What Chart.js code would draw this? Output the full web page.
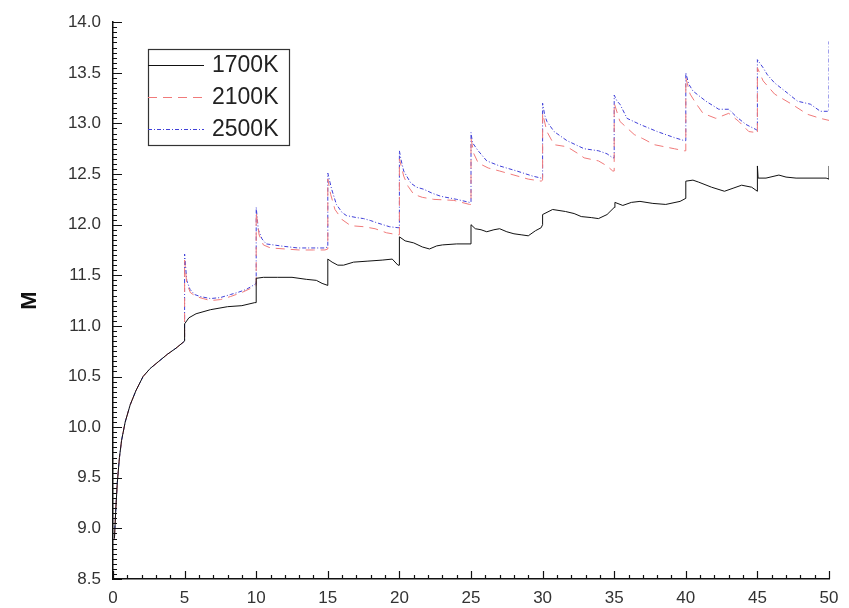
<!DOCTYPE html>
<html>
<head>
<meta charset="utf-8">
<title>M vs x</title>
<script src="https://cdn.jsdelivr.net/npm/chart.js@4"></script>
<style>
  html, body { margin: 0; padding: 0; background: #fff; }
  #wrap { width: 849px; height: 608px; position: relative; }
</style>
</head>
<body>
<div id="wrap"><canvas id="chart"></canvas></div>
<script>
// shared start-up ramp (all three curves coincide up to x = 5)
var rampX = [0.1, 0.2, 0.3, 0.45, 0.6, 0.85, 1.2, 1.6, 2.1, 2.6, 3.2, 3.8, 4.4, 5.0];
var rampM = [8.9, 9.2, 9.45, 9.7, 9.87, 10.05, 10.22, 10.36, 10.5, 10.58, 10.65, 10.72, 10.78, 10.85];

var x1700 = [5.0, 5.3, 5.8, 6.8, 8.0, 9.0, 9.9, 10.0, 10.0, 10.5, 11.5, 12.5, 13.5, 14.2, 14.6, 15.0,
  15.0, 15.3, 15.7, 16.1, 16.8, 17.8, 18.8, 19.5, 19.9, 20.0,
  20.0, 20.4, 21.0, 21.6, 22.1, 22.6, 23.0, 24.0, 25.0,
  25.0, 25.3, 25.7, 26.1, 26.6, 27.0, 27.5, 28.0, 28.5, 29.0, 29.5, 29.9, 30.0,
  30.0, 30.7, 31.6, 32.2, 32.7, 33.4, 33.9, 34.5, 35.0,
  35.05, 35.6, 36.2, 36.8, 37.7, 38.6, 39.6, 40.0,
  40.0, 40.5, 40.9, 41.8, 42.7, 43.3, 43.9, 44.6, 45.0,
  45.0, 45.05, 45.6, 46.5, 47.0, 47.7, 49.8, 50.0, 50.0];
var m1700 = [11.02, 11.08, 11.12, 11.16, 11.19, 11.2, 11.23, 11.23, 11.47, 11.48, 11.48, 11.48, 11.46, 11.45, 11.42, 11.4,
  11.66, 11.63, 11.6, 11.6, 11.63, 11.64, 11.65, 11.66, 11.6, 11.6,
  11.88, 11.84, 11.82, 11.78, 11.76, 11.79, 11.8, 11.81, 11.81,
  12.0, 11.96, 11.95, 11.93, 11.95, 11.96, 11.93, 11.91, 11.9, 11.89, 11.94, 11.97, 12.0,
  12.1, 12.15, 12.13, 12.11, 12.08, 12.07, 12.06, 12.1, 12.17,
  12.22, 12.19, 12.22, 12.23, 12.21, 12.2, 12.23, 12.26,
  12.43, 12.44, 12.42, 12.37, 12.33, 12.36, 12.39, 12.37, 12.33,
  12.58, 12.46, 12.46, 12.49, 12.47, 12.46, 12.46, 12.45, 12.58];

var x2100 = [5.0, 5.15, 5.4, 5.8, 6.3, 6.8, 7.5, 8.2, 9.0, 9.6, 10.0,
  10.0, 10.2, 10.5, 11.0, 12.0, 13.0, 14.0, 14.8, 15.0,
  15.0, 15.2, 15.5, 16.0, 16.6, 17.5, 18.3, 19.1, 19.9, 20.0,
  20.0, 20.3, 20.6, 21.0, 21.6, 22.4, 23.8, 24.9, 25.0,
  25.0, 25.2, 25.5, 26.2, 27.0, 28.0, 29.0, 29.9, 30.0,
  30.0, 30.3, 30.8, 31.7, 32.5, 32.9, 33.9, 34.5, 34.9, 35.0,
  35.0, 35.4, 36.4, 37.0, 37.8, 39.2, 39.9, 40.0,
  40.0, 40.3, 40.7, 41.2, 42.1, 43.0, 43.7, 44.4, 44.9, 45.0,
  45.0, 45.4, 46.2, 47.4, 48.5, 49.4, 50.0];
var m2100 = [11.65, 11.42, 11.33, 11.29, 11.27, 11.25, 11.26, 11.29, 11.33, 11.37, 11.4,
  12.12, 11.9, 11.8, 11.77, 11.76, 11.75, 11.75, 11.75, 11.76,
  12.45, 12.3, 12.15, 12.05, 11.99, 11.98, 11.96, 11.92, 11.9, 11.9,
  12.65, 12.48, 12.38, 12.3, 12.27, 12.25, 12.24, 12.2, 12.2,
  12.85, 12.7, 12.61, 12.56, 12.53, 12.49, 12.45, 12.43, 12.44,
  13.1, 12.92, 12.79, 12.77, 12.7, 12.66, 12.63, 12.58, 12.53, 12.53,
  13.2, 13.02, 12.89, 12.85, 12.79, 12.75, 12.73, 12.73,
  13.45, 13.29, 13.2, 13.1, 13.05, 13.1, 13.02, 12.92, 12.91, 12.9,
  13.55, 13.42, 13.29, 13.19, 13.09, 13.05, 13.03];

var x2500 = [5.0, 5.15, 5.38, 5.7, 6.1, 6.8, 7.5, 8.2, 8.7, 9.3, 9.9, 10.0,
  10.0, 10.15, 10.4, 10.7, 11.2, 11.7, 12.9, 13.8, 14.8, 15.0,
  15.0, 15.15, 15.27, 15.6, 16.0, 16.3, 17.0, 17.5, 18.0, 18.4, 19.3, 19.9, 20.0,
  20.0, 20.1, 20.3, 20.8, 21.2, 21.7, 22.3, 22.9, 24.0, 24.9, 25.0,
  25.0, 25.1, 25.5, 26.1, 27.0, 28.2, 29.3, 29.9, 30.0,
  30.0, 30.15, 30.3, 30.8, 31.7, 32.9, 33.9, 34.5, 34.9, 35.0,
  35.0, 35.2, 35.4, 35.9, 36.8, 38.0, 39.2, 39.9, 40.0,
  40.0, 40.2, 40.5, 41.4, 42.3, 43.0, 43.5, 44.2, 44.9, 45.0,
  45.0, 45.4, 45.7, 46.2, 47.1, 47.8, 48.7, 49.4, 49.9, 50.0, 50.0];
var m2500 = [11.71, 11.45, 11.36, 11.31, 11.29, 11.27, 11.28, 11.31, 11.33, 11.36, 11.41, 11.42,
  12.17, 11.95, 11.86, 11.81, 11.8, 11.79, 11.77, 11.77, 11.77, 11.78,
  12.51, 12.42, 12.35, 12.2, 12.12, 12.09, 12.07, 12.06, 12.04, 12.02, 11.98, 11.97, 11.97,
  12.73, 12.65, 12.53, 12.41, 12.37, 12.35, 12.31, 12.28, 12.25, 12.22, 12.22,
  12.91, 12.81, 12.73, 12.63, 12.58, 12.53, 12.48, 12.46, 12.46,
  13.2, 13.08, 13.02, 12.92, 12.83, 12.75, 12.73, 12.7, 12.66, 12.66,
  13.28, 13.22, 13.19, 13.05, 12.99, 12.92, 12.86, 12.83, 12.83,
  13.5, 13.39, 13.32, 13.22, 13.14, 13.14, 13.07, 12.99, 12.94, 12.93,
  13.63, 13.55, 13.48, 13.4, 13.3, 13.22, 13.19, 13.12, 13.12, 13.12, 13.81];

var seriesNames = ['1700K', '2100K', '2500K'];
var xTicks = [0, 5, 10, 15, 20, 25, 30, 35, 40, 45, 50];
var yTicks = [8.5, 9.0, 9.5, 10.0, 10.5, 11.0, 11.5, 12.0, 12.5, 13.0, 13.5, 14.0];

function pts(xs, ms) {
  var all = rampX.concat(xs), vals = rampM.concat(ms);
  return all.map(function(x, i) { return { x: x, y: vals[i] }; });
}

var FONT = "'Liberation Sans', Arial, sans-serif";

// inward minor/major tick marks on the two axes
var tickMarks = {
  id: 'tickMarks',
  afterDraw: function(chart) {
    var ctx = chart.ctx, sx = chart.scales.x, sy = chart.scales.y, a = chart.chartArea;
    ctx.save();
    ctx.strokeStyle = '#111';
    ctx.lineWidth = 1.2;
    ctx.beginPath();
    for (var i = 0; i <= 50; i++) {
      var px = Math.round(sx.getPixelForValue(i)) + 0.5;
      var len = i % 5 === 0 ? 8 : 4;
      ctx.moveTo(px, a.bottom);
      ctx.lineTo(px, a.bottom - len);
    }
    for (var j = 0; j <= 110; j++) {
      var py = Math.round(sy.getPixelForValue(8.5 + j * 0.05)) + 0.5;
      var l = j % 10 === 0 ? 9 : 4;
      ctx.moveTo(a.left, py);
      ctx.lineTo(a.left + l, py);
    }
    ctx.stroke();
    ctx.restore();
  }
};

// boxed legend in the upper left of the plot
var boxLegend = {
  id: 'boxLegend',
  afterDraw: function(chart) {
    var ctx = chart.ctx;
    var left = 148, top = 49, w = 141, h = 96;
    ctx.save();
    ctx.fillStyle = '#fff';
    ctx.fillRect(left, top, w, h);
    ctx.strokeStyle = '#333';
    ctx.lineWidth = 1.2;
    ctx.strokeRect(left + 0.5, top + 0.5, w, h);
    ctx.font = '23px ' + FONT;
    ctx.textBaseline = 'middle';
    chart.data.datasets.forEach(function(ds, i) {
      var yy = top + 16 + i * 32;
      ctx.beginPath();
      ctx.strokeStyle = ds.borderColor;
      ctx.lineWidth = 1;
      ctx.setLineDash(ds.borderDash || []);
      ctx.moveTo(left, yy + 0.5);
      ctx.lineTo(left + 56, yy + 0.5);
      ctx.stroke();
      ctx.setLineDash([]);
      ctx.fillStyle = '#222';
      ctx.fillText(ds.label, left + 64, yy + 1);
    });
    ctx.restore();
  }
};

new Chart(document.getElementById('chart'), {
  type: 'line',
  data: {
    datasets: [
      { label: seriesNames[0], data: pts(x1700, m1700), borderColor: '#111111', borderWidth: 1 },
      { label: seriesNames[1], data: pts(x2100, m2100), borderColor: '#f07a7a', borderWidth: 1, borderDash: [9, 6] },
      { label: seriesNames[2], data: pts(x2500, m2500), borderColor: '#4040d8', borderWidth: 1, borderDash: [4, 2, 1, 2] }
    ]
  },
  options: {
    responsive: true, maintainAspectRatio: false, animation: false,
    elements: { point: { radius: 0 }, line: { tension: 0 } },
    layout: { padding: { top: 21, right: 20, left: 0, bottom: 0 } },
    plugins: { legend: { display: false }, tooltip: { enabled: false } },
    scales: {
      x: {
        type: 'linear', min: 0, max: 50,
        afterBuildTicks: function(s) { s.ticks = xTicks.map(function(v) { return { value: v }; }); },
        afterFit: function(s) { s.height = 29; },
        ticks: { color: '#333', padding: 9, font: { family: FONT, size: 17 }, maxRotation: 0 },
        grid: { drawOnChartArea: false, drawTicks: false },
        border: { color: '#111', width: 1.5 }
      },
      y: {
        min: 8.5, max: 14,
        afterBuildTicks: function(s) { s.ticks = yTicks.map(function(v) { return { value: v }; }); },
        afterFit: function(s) { s.width = 113; },
        ticks: { color: '#333', padding: 12, font: { family: FONT, size: 17 }, callback: function(v) { return v.toFixed(1); } },
        grid: { drawOnChartArea: false, drawTicks: false },
        border: { color: '#111', width: 1.5 },
        title: { display: true, text: 'M', color: '#111', font: { family: FONT, size: 22, weight: 'bold' }, padding: { top: 17, bottom: 0 } }
      }
    }
  },
  plugins: [tickMarks, boxLegend]
});
</script>
</body>
</html>
